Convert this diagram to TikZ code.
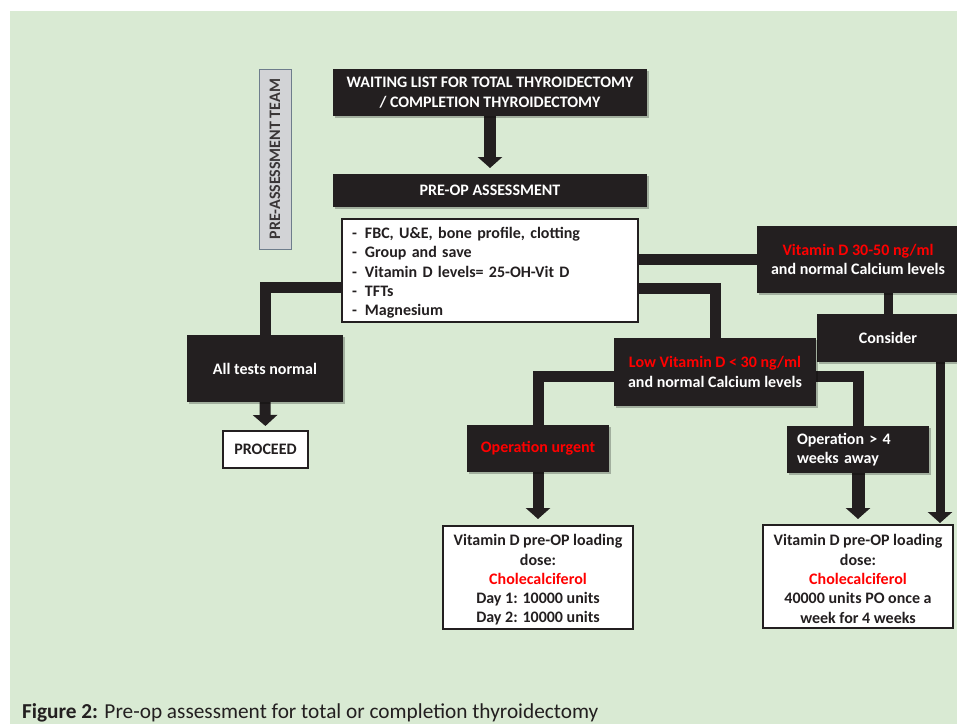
\documentclass[tikz,border=0pt]{standalone}
\usepackage{fontspec}
\setmainfont{Carlito}
\usetikzlibrary{arrows.meta,shadows}
\definecolor{bg}{HTML}{D9EAD3}
\definecolor{ink}{HTML}{231F20}
\definecolor{vred}{HTML}{FF0000}
\definecolor{teamfill}{HTML}{D2D3D6}
\definecolor{teamedge}{HTML}{6E7D8C}
\pgfdeclarelayer{bglayer}
\pgfdeclarelayer{connlayer}
\pgfsetlayers{bglayer,connlayer,main}
\begin{document}
\begin{tikzpicture}[x=1pt,y=-1pt,
  every node/.style={font=\fontsize{16}{19.3}\selectfont\bfseries, inner sep=0pt, outer sep=0pt},
  blackbox/.style={fill=ink, text=white, draw=none, align=center,
    drop shadow={shadow xshift=1.5pt, shadow yshift=-1.5pt, fill=black, opacity=0.25}},
  whitebox/.style={fill=white, draw=ink, line width=2pt, text=ink, align=center},
  boxtext/.style={text=ink, align=center, yshift=-2.5pt},
  teambox/.style={fill=teamfill, draw=teamedge, line width=0.8pt, text=ink!90},
  band/.style={draw=ink, line width=11pt},
  arrowband/.style={band, -{Triangle[width=24pt,length=11pt]}},
]
\useasboundingbox (0,0) rectangle (957,724);
\begin{pgfonlayer}{bglayer}
  \fill[bg] (10,11) rectangle (957,724);
\end{pgfonlayer}

% nodes
\node[teambox, rotate=90, minimum width=180pt, minimum height=32pt] (team) at (275,159) {PRE-ASSESSMENT TEAM};
\node[blackbox, minimum width=314pt, minimum height=47pt] (wait) at (490,92.5)
  {WAITING LIST FOR TOTAL THYROIDECTOMY\\/ COMPLETION THYROIDECTOMY};
\node[blackbox, minimum width=314pt, minimum height=33pt] (preop) at (490,190.5) {PRE-OP ASSESSMENT};
\node[whitebox, minimum width=296pt, minimum height=103pt,
  label={[boxtext, text width=276pt, align=left]center:{%
   \makebox[13pt][l]{-}FBC, U\&E, bone profile, clotting\\
   \makebox[13pt][l]{-}Group and save\\
   \makebox[13pt][l]{-}Vitamin D levels= 25-OH-Vit D\\
   \makebox[13pt][l]{-}TFTs\\
   \makebox[13pt][l]{-}Magnesium}}] (tests) at (490,270.5) {};
\node[blackbox, minimum width=202pt, minimum height=67pt] (vit) at (858,259.5)
  {\textcolor{vred}{Vitamin D 30-50 ng/ml}\\and normal Calcium levels};
\node[blackbox, minimum width=142pt, minimum height=48pt] (consider) at (888,338) {Consider};
\node[blackbox, minimum width=202pt, minimum height=68pt] (low) at (715,372)
  {\textcolor{vred}{Low Vitamin D < 30 ng/ml}\\and normal Calcium levels};
\node[blackbox, minimum width=156pt, minimum height=67pt] (allnormal) at (265,368.5) {All tests normal};
\node[whitebox, minimum width=85pt, minimum height=37pt] (proceed) at (265.5,449.5) {PROCEED};
\node[blackbox, minimum width=142pt, minimum height=47pt] (urgent) at (538,448.5) {\textcolor{vred}{Operation urgent}};
\node[blackbox, minimum width=142pt, minimum height=47pt, text width=122pt, align=left, inner xsep=10pt] (op4) at (858,449.5)
  {Operation > 4\\weeks away};
\node[whitebox, minimum width=190pt, minimum height=103pt,
  label={[boxtext]center:{Vitamin D pre-OP loading\\dose:\\\textcolor{vred}{Cholecalciferol}\\Day 1: 10000 units\\Day 2: 10000 units}}]
  (doseL) at (538,577.5) {};
\node[whitebox, minimum width=190pt, minimum height=103pt,
  label={[boxtext]center:{Vitamin D pre-OP loading\\dose:\\\textcolor{vred}{Cholecalciferol}\\40000 units PO once a\\week for 4 weeks}}]
  (doseR) at (858,576.5) {};
\node[anchor=base west, font=\fontsize{21.3}{25}\selectfont\mdseries, text=ink] (cap) at (22,718)
  {\textbf{Figure 2:} Pre-op assessment for total or completion thyroidectomy};

% connectors
\begin{pgfonlayer}{connlayer}
  \draw[arrowband, line width=12pt, shorten >=6pt] (wait.south) -- (preop.north);
  \draw[band] ([yshift=-17pt]tests.west) -| (allnormal.north);
  \draw[band] (tests.east |- vit.west) -- (vit.west);
  \draw[band] ([yshift=-17.5pt]tests.east) -| (low.north);
  \draw[band, line width=9pt] (consider.north |- vit.south) -- (consider.north);
  \coordinate (cR) at ([xshift=52pt]consider.south);
  \draw[arrowband, line width=9pt, shorten >=2pt] (cR) -- (cR |- doseR.north);
  \draw[band] ([yshift=-4.5pt]low.west) -| (urgent.north);
  \draw[band] ([yshift=-4pt]low.east) -| (op4.north);
  \draw[arrowband, shorten >=7pt] (urgent.south) -- (doseL.north);
  \draw[arrowband, line width=13pt, shorten >=6pt] (op4.south) -- (doseR.north);
  \draw[arrowband, shorten >=5pt] (allnormal.south) -- (proceed.north);
\end{pgfonlayer}
\end{tikzpicture}
\end{document}
